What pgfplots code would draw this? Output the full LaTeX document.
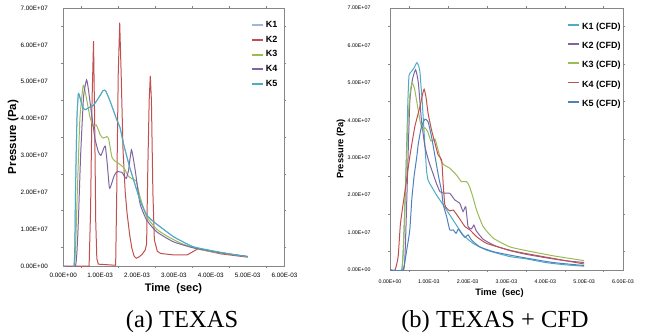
\documentclass[border=0pt]{standalone}
\usepackage{fontspec}
\setmainfont{Liberation Sans}
\newfontfamily\capfont{Liberation Serif}
\usepackage{pgfplots}
\pgfplotsset{compat=1.18}
\definecolor{cKa}{RGB}{160,180,220}
\definecolor{cteal}{RGB}{75,172,198}
\definecolor{cred}{RGB}{192,80,77}
\definecolor{cgreen}{RGB}{155,187,89}
\definecolor{cpurple}{RGB}{128,100,162}
\definecolor{cblue}{RGB}{79,129,189}
\definecolor{caxis}{RGB}{134,134,134}
\newcommand{\ls}[1]{\raisebox{0pt}[10.7pt][6pt]{#1}}
\pgfplotsset{legend image code/.code={\draw[#1] (0pt,0pt) -- (11pt,0pt);}}
\pgfplotsset{
  excel/.style={
    scale only axis,
    axis line style={draw=caxis, line width=0.6pt},
    xmin=0, xmax=6, ymin=0, ymax=7,
    xtick={0,1,2,3,4,5,6}, ytick={0,1,2,3,4,5,6,7},
    xticklabels={0.00E+00,1.00E-03,2.00E-03,3.00E-03,4.00E-03,5.00E-03,6.00E-03},
    yticklabels={0.00E+00,1.00E+07,2.00E+07,3.00E+07,4.00E+07,5.00E+07,6.00E+07,7.00E+07},
    minor x tick num=1, minor y tick num=1,
    tick align=outside, major tick length=0pt, minor tick length=2pt,
    tick style={caxis, line width=0.5pt},
    every axis plot/.append style={line width=1pt, no markers},
    legend image post style={line width=1.8pt},
    legend style={draw=none, fill=none, font=\bfseries\fontsize{9}{10}\selectfont, anchor=north west, row sep=3pt},
    legend cell align=left,
    xlabel={Time\ \ (sec)}, ylabel={Pressure (Pa)},
  }
}
\begin{document}
\begin{tikzpicture}
\path (0,0) rectangle (645pt,334pt);
% ---------------- (a) TEXAS
\begin{axis}[excel, at={(63.3pt,68pt)}, anchor=south west, width=221.2pt, height=258pt,
  xticklabel style={font=\fontsize{6.3}{7}\selectfont, yshift=-4pt},
  yticklabel style={font=\fontsize{6.3}{7}\selectfont, xshift=-12pt},
  xlabel style={font=\bfseries\fontsize{11}{12}\selectfont, at={(axis description cs:0.498,-0.089)}, anchor=center},
  ylabel style={font=\bfseries\fontsize{11.5}{12}\selectfont, at={(axis description cs:-0.227,0.5)}, anchor=center},
  legend style={at={(axis description cs:0.835,0.965)}},
]
\addplot[cKa, smooth, tension=0.3] coordinates {(0,0) (0.29,0) (0.33,2.0) (0.37,4.0) (0.41,4.68) (0.47,4.5) (0.53,4.3) (0.59,4.24) (0.7,4.3) (0.81,4.35) (0.95,4.55) (1.08,4.76) (1.15,4.75) (1.27,4.47) (1.45,3.97) (1.54,3.75) (1.63,3.33) (1.81,2.65) (2.08,1.79) (2.26,1.39) (2.45,1.2) (2.62,1.07) (2.98,0.8) (3.2,0.68) (3.53,0.52) (4.0,0.42) (4.5,0.33) (5.0,0.25)};
\addlegendentry{K1}
\addplot[cred] coordinates {(0,0) (0.70,0) (0.74,1.5) (0.78,4.5) (0.82,6.1) (0.85,4.0) (0.88,1.2) (0.91,0.2) (0.95,0.05) (1.42,0.02) (1.45,2.0) (1.49,5.2) (1.53,6.6) (1.57,5.2) (1.62,3.15) (1.68,2.0) (1.73,1.43) (1.8,0.85) (1.86,0.48) (1.92,0.27) (1.98,0.21) (2.06,0.25) (2.14,0.32) (2.22,0.43) (2.26,0.6) (2.29,2.5) (2.33,4.5) (2.36,5.16) (2.39,4.5) (2.43,2.0) (2.47,0.71) (2.55,0.4) (2.64,0.34) (3.0,0.3) (3.36,0.3) (3.5,0.38) (3.64,0.46) (3.8,0.44) (3.91,0.41) (4.27,0.33) (5.0,0.24)};
\addlegendentry{K2}
\addplot[cgreen, smooth, tension=0.3] coordinates {(0,0) (0.3,0) (0.38,2.0) (0.45,4.0) (0.54,4.9) (0.6,4.7) (0.72,4.06) (0.81,3.79) (0.89,3.83) (0.95,3.7) (1.0,3.56) (1.08,3.47) (1.18,3.51) (1.23,3.45) (1.32,2.95) (1.4,2.85) (1.49,2.79) (1.64,2.67) (1.77,2.43) (1.9,2.35) (1.98,2.3) (2.08,1.88) (2.26,1.34) (2.53,1.0) (2.8,0.82) (3.18,0.62) (3.64,0.46) (4.2,0.36) (5.0,0.26)};
\addlegendentry{K3}
\addplot[cpurple, smooth, tension=0.3] coordinates {(0,0) (0.33,0) (0.4,1.0) (0.47,3.0) (0.55,4.6) (0.63,5.05) (0.68,4.8) (0.77,4.1) (0.86,3.45) (0.95,3.1) (1.02,3.0) (1.1,3.2) (1.14,3.25) (1.19,2.8) (1.25,2.12) (1.3,2.2) (1.38,2.45) (1.46,2.56) (1.59,2.54) (1.66,2.43) (1.71,2.38) (1.77,2.6) (1.85,3.15) (1.95,2.6) (2.08,1.7) (2.26,1.25) (2.53,0.93) (2.98,0.66) (3.5,0.5) (4.2,0.37) (5.0,0.26)};
\addlegendentry{K4}
\addplot[cteal, smooth, tension=0.3] coordinates {(0,0) (0.29,0) (0.33,2.0) (0.37,4.0) (0.41,4.68) (0.47,4.5) (0.53,4.3) (0.59,4.24) (0.7,4.3) (0.81,4.35) (0.95,4.55) (1.08,4.76) (1.15,4.75) (1.27,4.47) (1.45,3.97) (1.54,3.75) (1.63,3.33) (1.81,2.65) (2.08,1.79) (2.26,1.39) (2.45,1.2) (2.62,1.07) (2.98,0.8) (3.2,0.68) (3.53,0.52) (4.0,0.42) (4.5,0.33) (5.0,0.25)};
\addlegendentry{K5}
\end{axis}
% ---------------- (b) TEXAS + CFD
\begin{axis}[excel, at={(390pt,64pt)}, anchor=south west, width=233pt, height=262pt,
  xticklabel style={font=\fontsize{5.3}{6}\selectfont, yshift=-6pt},
  yticklabel style={font=\fontsize{5.3}{6}\selectfont, xshift=-16pt},
  xlabel style={font=\bfseries\fontsize{9.3}{10}\selectfont, at={(axis description cs:0.47,-0.088)}, anchor=center},
  ylabel style={font=\bfseries\fontsize{9.3}{10}\selectfont, at={(axis description cs:-0.21,0.462)}, anchor=center},
  legend style={at={(axis description cs:0.747,0.975)}},
]
\addplot[cteal, smooth, tension=0.3] coordinates {(0,0) (0.3,0) (0.36,1.0) (0.42,3.0) (0.46,4.5) (0.49,5.2) (0.55,5.3) (0.62,5.4) (0.69,5.54) (0.74,5.45) (0.77,5.3) (0.8,4.9) (0.83,4.5) (0.88,3.65) (0.94,2.67) (0.98,2.4) (1.03,2.3) (1.2,2.0) (1.37,1.74) (1.54,1.47) (1.71,1.2) (1.88,0.94) (2.14,0.71) (2.49,0.53) (3.08,0.36) (3.5,0.3) (4.0,0.2) (4.5,0.14) (5.0,0.1)};
\addlegendentry{\ls{K1 (CFD)}}
\addplot[cpurple, smooth, tension=0.3] coordinates {(0,0) (0.35,0) (0.4,0.8) (0.45,2.5) (0.51,4.5) (0.58,5.1) (0.66,5.35) (0.73,5.0) (0.81,4.0) (0.9,3.3) (1.0,2.9) (1.1,2.6) (1.2,2.3) (1.29,2.09) (1.41,2.05) (1.54,2.05) (1.67,1.87) (1.8,1.78) (1.88,1.56) (1.95,1.69) (2.01,1.16) (2.1,1.1) (2.16,1.2) (2.22,1.05) (2.4,0.82) (2.7,0.65) (3.08,0.52) (3.5,0.42) (4.0,0.33) (4.5,0.25) (5.0,0.2)};
\addlegendentry{\ls{K2 (CFD)}}
\addplot[cgreen, smooth, tension=0.3] coordinates {(0,0) (0.3,0) (0.36,1.0) (0.42,2.8) (0.47,4.1) (0.52,4.75) (0.57,5.0) (0.63,4.85) (0.69,4.5) (0.77,4.0) (0.83,3.75) (0.9,3.8) (0.97,3.7) (1.05,3.45) (1.1,3.45) (1.16,3.5) (1.24,3.2) (1.32,2.9) (1.4,2.8) (1.54,2.72) (1.71,2.54) (1.84,2.36) (1.97,2.36) (2.04,2.25) (2.12,2.0) (2.23,1.6) (2.4,1.16) (2.66,0.85) (3.08,0.62) (3.5,0.52) (4.2,0.38) (5.0,0.25)};
\addlegendentry{\ls{K3 (CFD)}}
\addplot[cred, smooth, tension=0.3] coordinates {(0,0) (0.13,0) (0.21,0.36) (0.27,1.25) (0.39,2.14) (0.51,3.03) (0.64,3.83) (0.77,4.36) (0.84,4.7) (0.88,4.83) (0.93,4.6) (0.98,4.19) (1.07,3.74) (1.16,3.38) (1.24,3.07) (1.33,2.94) (1.37,2.3) (1.41,1.75) (1.46,1.65) (1.54,1.58) (1.63,1.6) (1.76,1.42) (1.93,1.16) (2.06,1.07) (2.23,0.89) (2.49,0.71) (3.08,0.53) (3.5,0.44) (4.2,0.31) (5.0,0.16)};
\addlegendentry{\ls{K4 (CFD)}}
\addplot[cblue, smooth, tension=0.3] coordinates {(0,0) (0.33,0) (0.43,0.53) (0.51,1.07) (0.56,1.87) (0.62,2.5) (0.69,3.03) (0.73,3.38) (0.81,3.83) (0.9,4.03) (0.98,3.96) (1.07,3.56) (1.16,3.03) (1.25,2.5) (1.33,2.1) (1.37,1.75) (1.46,1.42) (1.54,1.07) (1.63,1.07) (1.70,0.98) (1.76,1.09) (1.84,0.98) (1.93,0.87) (2.01,0.94) (2.10,0.8) (2.31,0.62) (2.66,0.49) (3.08,0.4) (3.5,0.32) (4.2,0.2) (5.0,0.12)};
\addlegendentry{\ls{K5 (CFD)}}
\end{axis}
\node[font=\capfont\fontsize{24.5}{28}\selectfont, anchor=base] at (182pt,7pt) {(a) TEXAS};
\node[font=\capfont\fontsize{24.5}{28}\selectfont, anchor=base] at (495pt,7pt) {(b) TEXAS + CFD};
\end{tikzpicture}
\end{document}
